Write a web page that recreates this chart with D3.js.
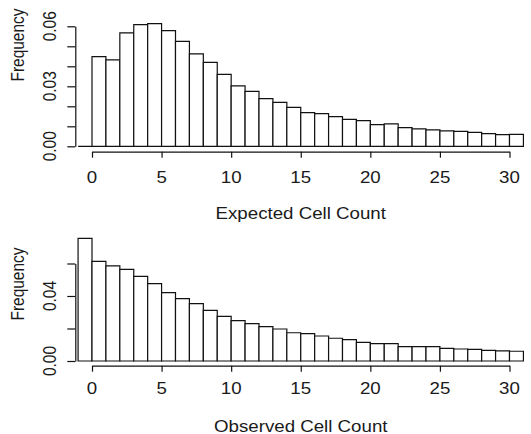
<!DOCTYPE html>
<html>
<head>
<meta charset="utf-8">
<script src="https://cdn.jsdelivr.net/npm/d3@7"></script>
<style>
  html, body { margin: 0; padding: 0; background: #fff; }
  svg { display: block; }
  text { font-family: "Liberation Sans", Arial, Helvetica, sans-serif; fill: #1a1a1a; }
</style>
</head>
<body>
<div id="chart"></div>
<script>
// bins are [start, start + 1), first bin starts at -1
const binStarts = d3.range(-1, 31);
const expectedFreq = [
    0, 0.0448, 0.0432, 0.0567, 0.0608, 0.0613, 0.0578, 0.0525, 0.0462, 0.0420,
    0.0360, 0.0302, 0.0275, 0.0238, 0.0220, 0.0195, 0.0168, 0.0163, 0.0148, 0.0135,
    0.0128, 0.0108, 0.0112, 0.0093, 0.0087, 0.0082, 0.0077, 0.0075, 0.0070, 0.0063,
    0.0058, 0.0060
];
const observedFreq = [
    0.0755, 0.0613, 0.0585, 0.0564, 0.0521, 0.0476, 0.0421, 0.0384, 0.0353, 0.0312,
    0.0275, 0.0248, 0.0230, 0.0211, 0.0197, 0.0174, 0.0168, 0.0154, 0.0140, 0.0131,
    0.0115, 0.0107, 0.0107, 0.0088, 0.0088, 0.0088, 0.0078, 0.0074, 0.0072, 0.0066,
    0.0062, 0.0060
];
const xTicks = [0, 5, 10, 15, 20, 25, 30];
const topYTicks = [0, 0.01, 0.02, 0.03, 0.04, 0.05, 0.06];
const topYLabels = [0, 0.03, 0.06];
const bottomYTicks = [0, 0.02, 0.04, 0.06];
const bottomYLabels = [0, 0.04];

const width = 531;
const height = 434;

const svg = d3.select('#chart')
  .append('svg')
    .attr('width', width)
    .attr('height', height);

const x = d3.scaleLinear().domain([0, 30]).range([92, 509.5]);

const panels = [
    {
        values: expectedFreq,
        y: d3.scaleLinear().domain([0, 0.06]).range([146.3, 26.3]),
        yTicks: topYTicks,
        yLabels: topYLabels,
        xAxisY: 151.7,
        tickLabelY: 182.5,
        titleY: 218.5,
        ylabY: 45,
        title: 'Expected Cell Count'
    },
    {
        values: observedFreq,
        y: d3.scaleLinear().domain([0, 0.06]).range([361, 263.5]),
        yTicks: bottomYTicks,
        yLabels: bottomYLabels,
        xAxisY: 365.7,
        tickLabelY: 393.5,
        titleY: 431.5,
        ylabY: 284,
        title: 'Observed Cell Count'
    }
];

const yAxisX = 75.3;

panels.forEach(function (p) {
    const g = svg.append('g');

    // bars as closed paths so zero-height bins still show as a line
    g.selectAll('.bar')
        .data(binStarts.map(function (s, i) { return [s, p.values[i]]; }))
      .enter()
      .append('path')
        .attr('class', 'bar')
        .attr('d', function (d) {
            const x0 = x(d[0]), x1 = x(d[0] + 1);
            const y0 = p.y(0), y1 = p.y(d[1]);
            return `M${x0},${y0}V${y1}H${x1}V${y0}Z`;
        })
        .attr('fill', '#fff')
        .attr('stroke', '#111')
        .attr('stroke-width', 1.2);

    // x axis
    g.append('g')
        .attr('transform', `translate(0,${p.xAxisY})`)
        .call(d3.axisBottom(x).tickValues(xTicks).tickSize(6).tickSizeOuter(0).tickFormat(''))
        .call(function (a) {
            a.selectAll('path, line').attr('stroke', '#111').attr('stroke-width', 1.2);
        });

    g.selectAll('.xlab')
        .data(xTicks)
      .enter()
      .append('text')
        .attr('text-anchor', 'middle')
        .attr('font-size', 17)
        .attr('transform', function (d) { return `translate(${x(d)},${p.tickLabelY}) scale(1.1,1)`; })
        .text(function (d) { return d; });

    g.append('text')
        .attr('text-anchor', 'middle')
        .attr('font-size', 17)
        .attr('transform', `translate(${x(15)},${p.titleY}) scale(1.1,1)`)
        .text(p.title);

    // y axis
    g.append('g')
        .attr('transform', `translate(${yAxisX},0)`)
        .call(d3.axisLeft(p.y).tickValues(p.yTicks).tickSize(8).tickSizeOuter(0).tickFormat(''))
        .call(function (a) {
            a.selectAll('path, line').attr('stroke', '#111').attr('stroke-width', 1.2);
        });

    g.selectAll('.ylab')
        .data(p.yLabels)
      .enter()
      .append('text')
        .attr('text-anchor', 'middle')
        .attr('font-size', 15.5)
        .attr('transform', function (d) { return `translate(56,${p.y(d)}) scale(1.15,1) rotate(-90)`; })
        .text(function (d) { return d.toFixed(2); });

    g.append('text')
        .attr('text-anchor', 'middle')
        .attr('font-size', 15.5)
        .attr('transform', `translate(24,${p.ylabY}) scale(1.15,1) rotate(-90)`)
        .text('Frequency');
});
</script>
</body>
</html>
